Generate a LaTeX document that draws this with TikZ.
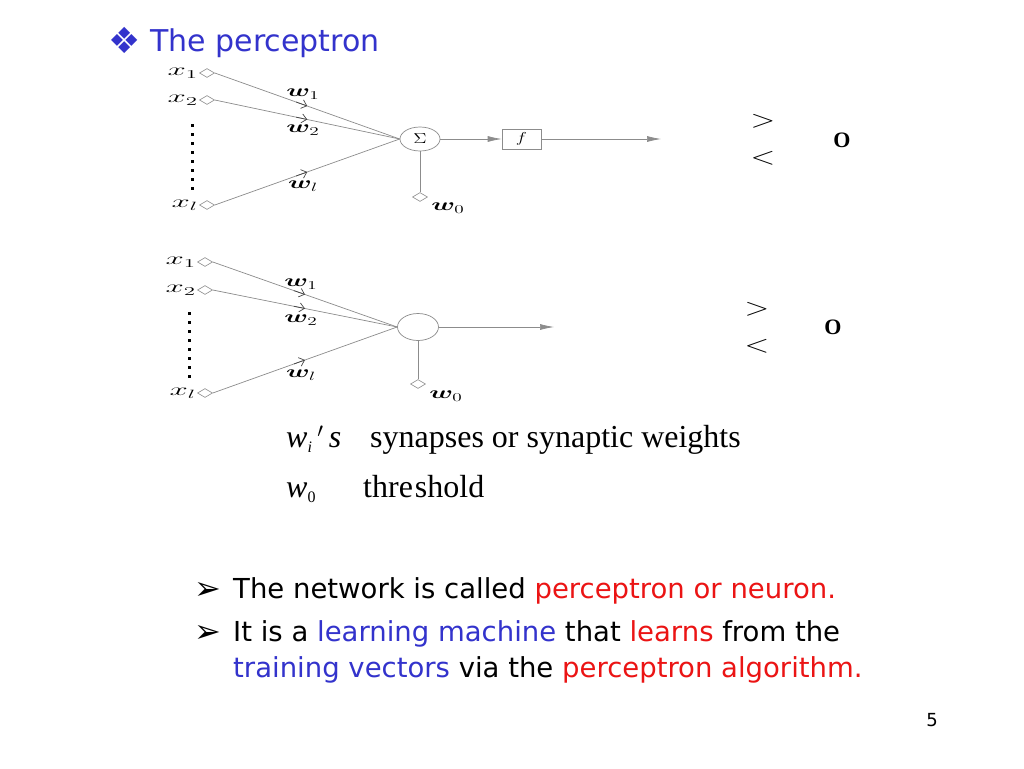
\documentclass[tikz,border=0pt]{standalone}
\usepackage{fontspec}
\usepackage{graphicx}
\usepackage{amsmath,bm}
\usetikzlibrary{shapes.geometric,arrows.meta,calc}
\newfontfamily\tah{DejaVu Sans}
\newfontfamily\dv{DejaVu Sans}
\newfontfamily\tms{Liberation Serif}
\definecolor{tblue}{RGB}{51,51,204}
\definecolor{tred}{RGB}{235,20,20}
\definecolor{lgray}{RGB}{140,140,140}
\definecolor{dgray}{RGB}{70,70,70}
\newcommand{\xs}[1]{\scalebox{1.9}[1]{#1}}
\newcommand{\ws}[1]{\scalebox{1.6}[1]{#1}}
\tikzset{
  inp/.style={diamond,draw=lgray,line width=0.6pt,minimum width=15pt,minimum height=9pt,inner sep=0pt},
  wire/.style={draw=lgray,line width=0.7pt},
  sig/.style={ellipse,draw=lgray,line width=0.7pt,minimum width=40pt,minimum height=24pt,inner sep=0pt},
  fbox/.style={rectangle,draw=lgray,line width=0.7pt,minimum width=39pt,minimum height=20pt,inner sep=0pt},
  xlab/.style={anchor=east,inner sep=1pt,font=\fontsize{16.5}{20}\selectfont},
  wlab/.style={inner sep=0pt,font=\fontsize{18.5}{22}\selectfont},
  bigtip/.style={-{Latex[length=14pt,width=6pt]}},
  smalltip/.style={-{Straight Barb[length=5pt,width=9pt]},draw=dgray,line width=0.7pt},
  cmp/.style={inner sep=0pt,font=\fontsize{28}{30}\selectfont},
  outO/.style={inner sep=0pt,font=\tms\bfseries\fontsize{22}{24}\selectfont},
  body/.style={anchor=base west,inner sep=0pt,font=\tah\fontsize{27.5}{30}\selectfont},
  serif/.style={anchor=base west,inner sep=0pt,font=\tms\fontsize{32}{34}\selectfont},
  bulmark/.style={anchor=base west,inner sep=0pt,font=\dv\fontsize{32}{34}\selectfont},
  dotcol/.style={line width=3pt,dash pattern=on 3pt off 6pt}
}
\begin{document}
\begin{tikzpicture}[x=1pt,y=-1pt]
\useasboundingbox[fill=white] (0,0) rectangle (1024,768);
% title
\node[anchor=base west,inner sep=0pt,text=tblue,font=\dv\fontsize{36}{40}\selectfont] (bul) at (108,53) {❖};
\node[anchor=base west,inner sep=0pt,text=tblue,font=\tah\fontsize{30}{34}\selectfont] (title) at (150,52) {The perceptron};

% ---------- top perceptron ----------
\node[inp] (a1) at (207,73) {};
\node[inp] (a2) at (207,100) {};
\node[inp] (al) at (207,205) {};
\node[xlab] (ax1) at (a1.west) {\xs{$x_1$}};
\node[xlab] (ax2) at (a2.west) {\xs{$x_2$}};
\node[xlab] (axl) at (al.west) {\xs{$x_l$}};
\coordinate (adt) at (192,124);
\coordinate (adb) at (192,190);
\draw[dotcol] (adt) -- (adb);
\node[sig] (as) at (420,139) {\scalebox{1.3}[1]{\fontsize{14}{16}\selectfont$\Sigma$}};
\draw[wire] (a1.east) -- (as.west);
\draw[wire] (a2.east) -- (as.west);
\draw[wire] (al.east) -- (as.west);
\draw[smalltip] ($(a1.east)!0.44!(as.west)$) -- ($(a1.east)!0.5!(as.west)$);
\draw[smalltip] ($(a2.east)!0.44!(as.west)$) -- ($(a2.east)!0.5!(as.west)$);
\draw[smalltip] ($(al.east)!0.44!(as.west)$) -- ($(al.east)!0.5!(as.west)$);
\node[wlab] (aw1) at (303,94) {\ws{$\bm{w}_{1}$}};
\node[wlab] (aw2) at (303,130) {\ws{$\bm{w}_{2}$}};
\node[wlab] (awl) at (303,186) {\ws{$\bm{w}_{l}$}};
\node[inp] (a0) at (420,197) {};
\draw[wire] (as.south) -- (a0.north);
\node[wlab] (aw0) at (448,208) {\ws{$\bm{w}_{0}$}};
\node[fbox] (af) at (521.5,139) {\scalebox{1.3}[1]{\fontsize{15}{16}\selectfont$f$}};
\draw[wire,bigtip] (as.east) -- (af.west);
\coordinate (aout) at (661,139);
\draw[wire,bigtip] (af.east) -- (aout);
\node[cmp] (agt) at (763,121) {\scalebox{1.3}[1]{$>$}};
\node[cmp] (alt) at (763,158) {\scalebox{1.3}[1]{$<$}};
\node[outO] (aO) at (842,140) {O};

% ---------- bottom perceptron ----------
\node[inp] (b1) at (205,262) {};
\node[inp] (b2) at (205,290) {};
\node[inp] (bl) at (205,393) {};
\node[xlab] (bx1) at (b1.west) {\xs{$x_1$}};
\node[xlab] (bx2) at (b2.west) {\xs{$x_2$}};
\node[xlab] (bxl) at (bl.west) {\xs{$x_l$}};
\coordinate (bdt) at (189,312);
\coordinate (bdb) at (189,378);
\draw[dotcol] (bdt) -- (bdb);
\node[sig,minimum width=41pt,minimum height=27pt] (bs) at (418,327) {};
\draw[wire] (b1.east) -- (bs.west);
\draw[wire] (b2.east) -- (bs.west);
\draw[wire] (bl.east) -- (bs.west);
\draw[smalltip] ($(b1.east)!0.44!(bs.west)$) -- ($(b1.east)!0.5!(bs.west)$);
\draw[smalltip] ($(b2.east)!0.44!(bs.west)$) -- ($(b2.east)!0.5!(bs.west)$);
\draw[smalltip] ($(bl.east)!0.44!(bs.west)$) -- ($(bl.east)!0.5!(bs.west)$);
\node[wlab] (bw1) at (301,284) {\ws{$\bm{w}_{1}$}};
\node[wlab] (bw2) at (301,320) {\ws{$\bm{w}_{2}$}};
\node[wlab] (bwl) at (301,375) {\ws{$\bm{w}_{l}$}};
\node[inp] (b0) at (418,384) {};
\draw[wire] (bs.south) -- (b0.north);
\node[wlab] (bw0) at (446,396) {\ws{$\bm{w}_{0}$}};
\coordinate (bout) at (554,327);
\draw[wire,bigtip] (bs.east) -- (bout);
\node[cmp] (bgt) at (757,309) {\scalebox{1.3}[1]{$>$}};
\node[cmp] (blt) at (757,346) {\scalebox{1.3}[1]{$<$}};
\node[outO] (bO) at (833,327) {O};

% ---------- legend ----------
\node[serif] (l1a) at (286,447) {\textit{w}\raisebox{-0.35ex}{\fontsize{16}{17}\selectfont\textit{i}}\textit{\,$'$\,s}};
\node[serif] (l1b) at (370,447) {synapses or synaptic weights};
\node[serif] (l2a) at (286,497) {\textit{w}\raisebox{-0.35ex}{\fontsize{16}{17}\selectfont 0}};
\node[serif] (l2b) at (363,497) {thre\hspace{2pt}shold};

% ---------- bullets ----------
\node[bulmark] (m1) at (194,599) {➢};
\node[body] (t1) at (233,598) {The network is called \textcolor{tred}{perceptron or neuron.}};
\node[bulmark] (m2) at (194,642) {➢};
\node[body] (t2) at (233,641) {It is a \textcolor{tblue}{learning machine} that \textcolor{tred}{learns} from the};
\node[body] (t3) at (233,677) {\textcolor{tblue}{training vectors} via the \textcolor{tred}{perceptron algorithm.}};

\node[anchor=base,inner sep=0pt,font=\tah\fontsize{18}{20}\selectfont] (pg) at (932,726) {5};
\end{tikzpicture}
\end{document}
